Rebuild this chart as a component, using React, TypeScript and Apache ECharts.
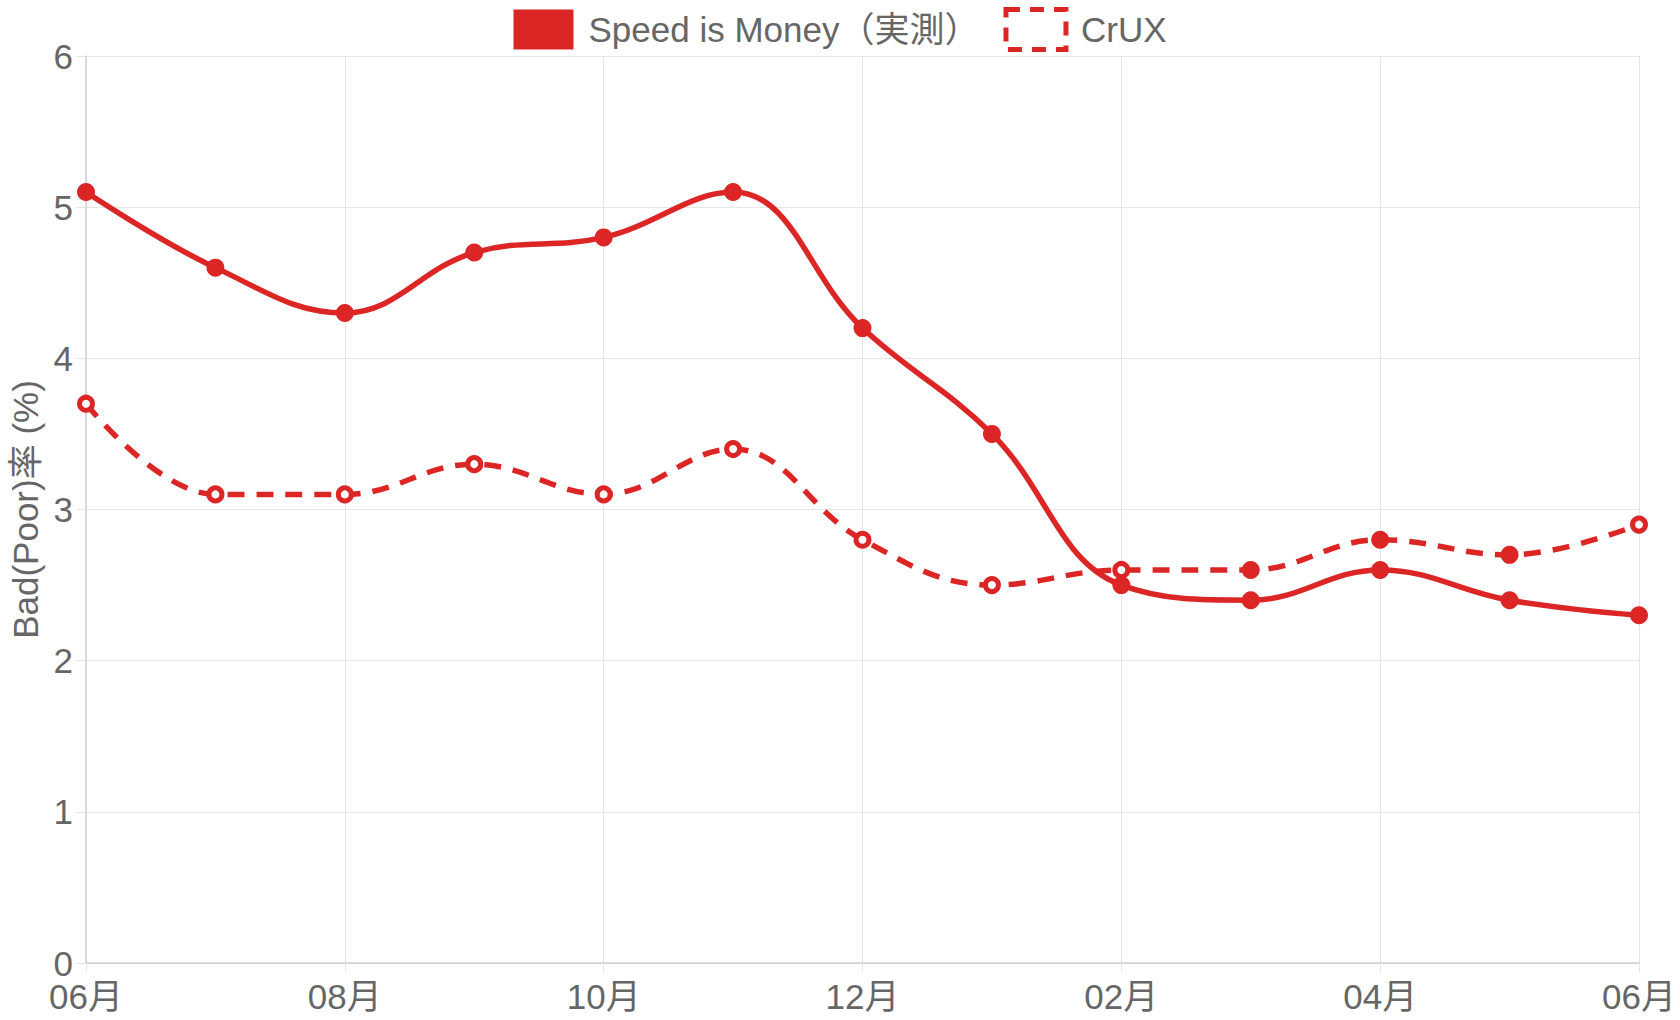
import React, { useEffect, useRef } from "react";
import * as echarts from "echarts";

const RED = "#dc2626";
const FONT = '"Liberation Sans", "Noto Sans CJK JP", Arial, sans-serif';

const months = [
  "06月", "07月", "08月", "09月", "10月", "11月", "12月",
  "01月", "02月", "03月", "04月", "05月", "06月",
];
const speedIsMoney = [5.1, 4.6, 4.3, 4.7, 4.8, 5.1, 4.2, 3.5, 2.5, 2.4, 2.6, 2.4, 2.3];
const crux = [3.7, 3.1, 3.1, 3.3, 3.1, 3.4, 2.8, 2.5, 2.6, 2.6, 2.8, 2.7, 2.9];
// CrUX points drawn as filled dots (the rest are hollow)
const cruxFilled = [9, 10, 11];

const App: React.FC = () => {
  const chartRef = useRef<HTMLDivElement>(null);

  useEffect(() => {
    if (!chartRef.current) return;
    const chart = echarts.init(chartRef.current, undefined, { renderer: "svg" });

    const option = {
      animation: false,
      textStyle: { fontFamily: FONT },
      legend: {
        top: 2,
        left: "center",
        itemWidth: 60,
        itemHeight: 40,
        itemGap: 24,
        textStyle: { fontSize: 35, color: "#666", fontFamily: FONT, padding: [0, 0, 0, 10] },
        data: [
          {
            name: "Speed is Money（実測）",
            icon: "rect",
            itemStyle: { color: RED, borderWidth: 0 },
          },
          {
            name: "CrUX",
            icon: "rect",
            itemStyle: {
              color: "#fff",
              borderColor: RED,
              borderWidth: 5,
              borderType: [14, 10],
            },
          },
        ],
      },
      grid: {
        left: 86,
        right: 41,
        top: 56,
        bottom: 57,
        containLabel: false,
        outerBoundsMode: "none",
      },
      xAxis: {
        type: "category",
        data: months,
        boundaryGap: false,
        axisLine: { lineStyle: { color: "#cfcfcf", width: 1.5 } },
        axisTick: { show: true, interval: 1, length: 9, lineStyle: { color: "#e3e3e3" } },
        axisLabel: { interval: 1, fontSize: 35, color: "#666", margin: 16, fontFamily: FONT },
        splitLine: { show: true, interval: 1, lineStyle: { color: "#e6e6e6", width: 1 } },
      },
      yAxis: {
        type: "value",
        min: 0,
        max: 6,
        interval: 1,
        name: "Bad(Poor)率 (%)",
        nameLocation: "middle",
        nameGap: 42,
        nameTextStyle: { fontSize: 35, color: "#666", fontFamily: FONT },
        axisLine: { show: true, lineStyle: { color: "#cfcfcf", width: 1.5 } },
        axisTick: { show: true, length: 9, lineStyle: { color: "#e3e3e3" } },
        axisLabel: { fontSize: 35, color: "#666", margin: 13, fontFamily: FONT },
        splitLine: { show: true, lineStyle: { color: "#e6e6e6", width: 1 } },
      },
      series: [
        {
          name: "Speed is Money（実測）",
          type: "line",
          data: speedIsMoney,
          smooth: 0.4,
          symbol: "circle",
          symbolSize: 18,
          lineStyle: { color: RED, width: 5.5 },
          itemStyle: { color: RED, borderWidth: 0 },
          z: 3,
        },
        {
          name: "CrUX",
          type: "line",
          data: crux.map((v, i) =>
            cruxFilled.includes(i)
              ? { value: v, symbolSize: 18, itemStyle: { color: RED, borderWidth: 0 } }
              : { value: v }
          ),
          smooth: 0.4,
          symbol: "circle",
          symbolSize: 13,
          lineStyle: { color: RED, width: 5.5, type: [17, 12] },
          itemStyle: { color: "#fff", borderColor: RED, borderWidth: 5 },
          z: 2,
        },
      ],
    };

    chart.setOption(option);

    return () => {
      chart.dispose();
    };
  }, []);

  return (
    <div
      ref={chartRef}
      style={{ position: "absolute", left: 0, top: 0, width: 1680, height: 1020, background: "#fff" }}
    />
  );
};

export default App;
